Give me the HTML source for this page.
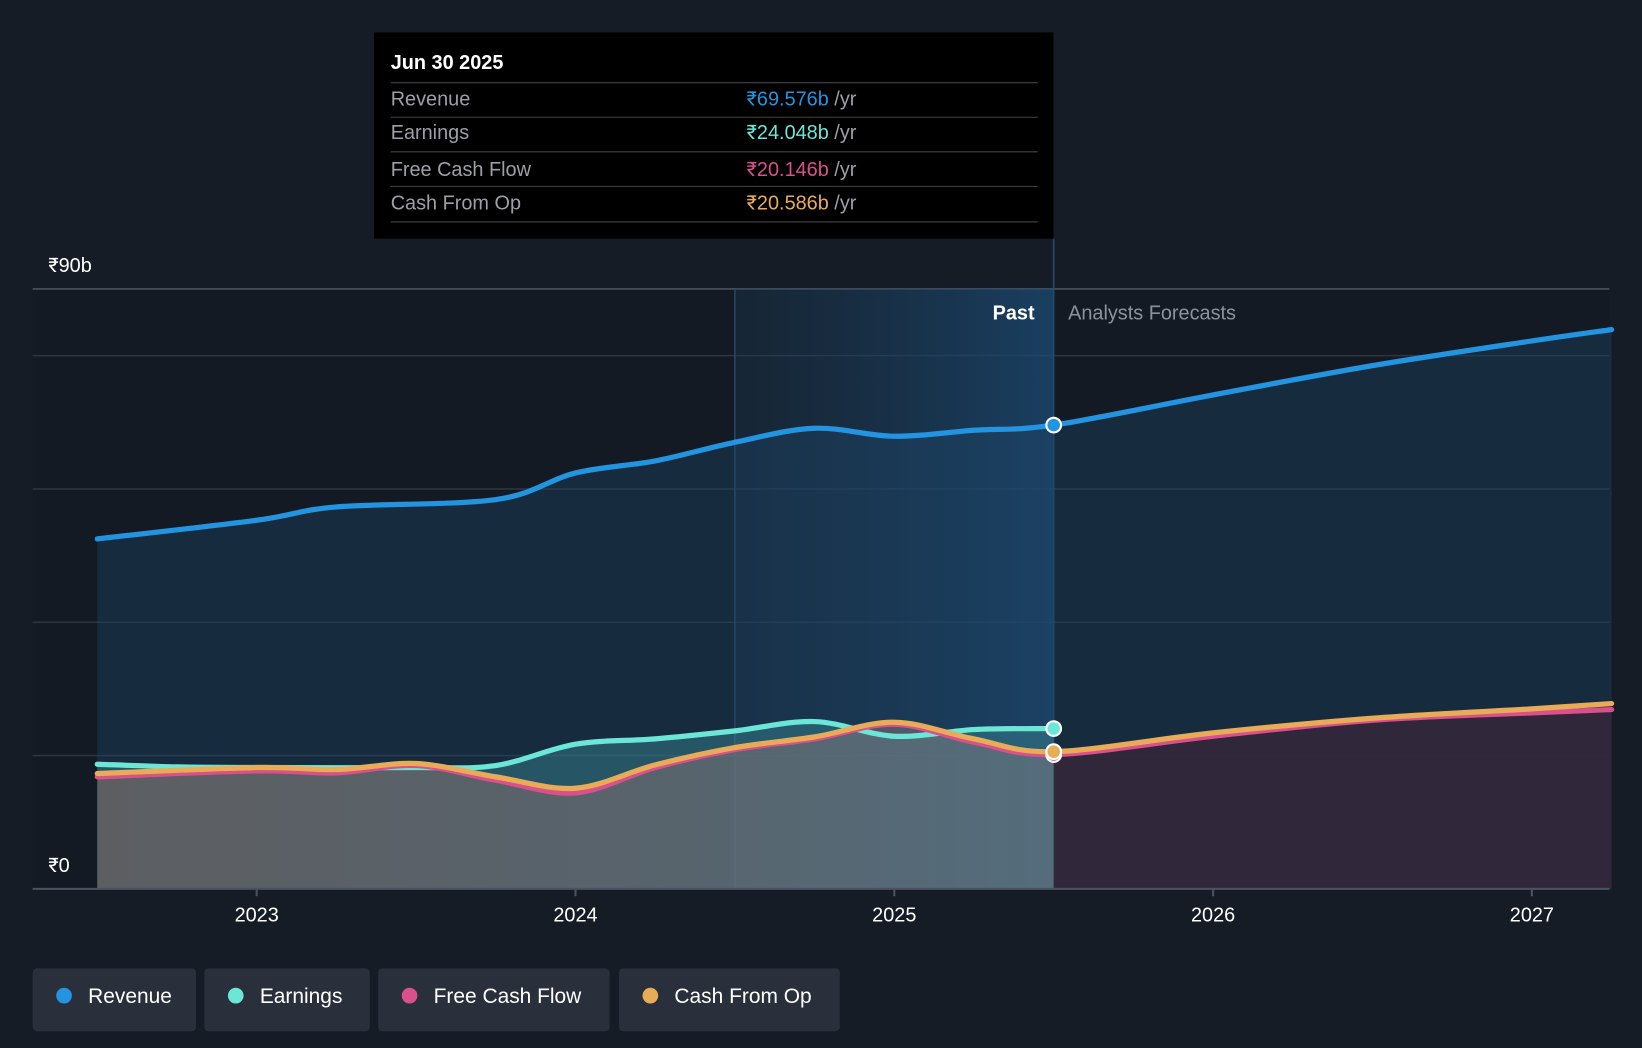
<!DOCTYPE html>
<html><head><meta charset="utf-8"><style>
html,body{margin:0;padding:0;background:#161c25;}
svg{display:block;font-family:"Liberation Sans",Roboto,sans-serif;}
</style></head><body>
<svg id="chart" width="1642" height="1048" viewBox="0 0 1568 1001">
<defs>
<linearGradient id="pastGrad" x1="0" x2="1" y1="0" y2="0">
<stop offset="0" stop-color="#1d3a56" stop-opacity="0.35"/><stop offset="1" stop-color="#1b4b75" stop-opacity="0.75"/>
</linearGradient>
<linearGradient id="cashGrad" x1="0" x2="1" y1="0" y2="0">
<stop offset="0" stop-color="#8a6660"/><stop offset="1" stop-color="#6e7f90"/>
</linearGradient>
</defs>
<rect x="0" y="0" width="1568" height="1001" fill="#161c25"/>
<rect x="31" y="276" width="1506" height="573" fill="#131a23"/>
<g id="grid"></g>
<rect id="pastRegion" fill="url(#pastGrad)"/>
<g id="areas"></g>
<g id="lines"></g>
<g id="axes"></g>
<g id="dots"></g>
<text x="988" y="305" fill="#ffffff" font-size="19" text-anchor="end" font-weight="bold">Past</text>
<text x="1020" y="305" fill="#8b929c" font-size="19">Analysts Forecasts</text>
<g>
<rect x="357" y="31" width="649" height="197" fill="#000000"/>
<text x="373" y="66" fill="#fff" font-size="19" font-weight="bold">Jun 30 2025</text>
<line x1="373" x2="991" y1="79" y2="79" stroke="#444"/>
<text x="373" y="101" fill="#9aa0a6" font-size="19">Revenue</text>
<text x="713" y="101" font-size="19"><tspan fill="#2394df">₹69.576b</tspan><tspan fill="#9aa0a6"> /yr</tspan></text>
<line x1="373" x2="991" y1="112" y2="112" stroke="#444"/>
<text x="373" y="133" fill="#9aa0a6" font-size="19">Earnings</text>
<text x="713" y="133" font-size="19"><tspan fill="#6ce6d6">₹24.048b</tspan><tspan fill="#9aa0a6"> /yr</tspan></text>
<line x1="373" x2="991" y1="145" y2="145" stroke="#444"/>
<text x="373" y="168" fill="#9aa0a6" font-size="19">Free Cash Flow</text>
<text x="713" y="168" font-size="19"><tspan fill="#d9508a">₹20.146b</tspan><tspan fill="#9aa0a6"> /yr</tspan></text>
<line x1="373" x2="991" y1="178" y2="178" stroke="#444"/>
<text x="373" y="200" fill="#9aa0a6" font-size="19">Cash From Op</text>
<text x="713" y="200" font-size="19"><tspan fill="#e8ac58">₹20.586b</tspan><tspan fill="#9aa0a6"> /yr</tspan></text>
<line x1="373" x2="991" y1="212" y2="212" stroke="#444"/>
</g>
<g id="legend"></g>
</svg>
<script>
const NS="http://www.w3.org/2000/svg";
const yTicks=[0,20,40,60,80,90];
const yLabels=["₹0","","","","","₹90b"];
const xTicks=[2023,2024,2025,2026,2027];
const revX=[2022.5,2023,2023.25,2023.75,2024,2024.25,2024.5,2024.75,2025,2025.25,2025.5,2026,2026.5,2027,2027.25];
const revY=[52.5,55.3,57.3,58.4,62.4,64.2,67,69.1,67.9,68.8,69.576,74.1,78.5,82.2,83.9];
const earnX=[2022.5,2022.75,2023,2023.5,2023.75,2024,2024.25,2024.5,2024.75,2025,2025.25,2025.5];
const earnY=[18.7,18.3,18.2,18.2,18.5,21.7,22.5,23.7,25.1,22.9,23.9,24.048];
const cfX=[2022.5,2023,2023.25,2023.5,2023.75,2024,2024.25,2024.5,2024.75,2025,2025.25,2025.5,2026,2026.5,2027,2027.25];
const fcfY=[16.8,17.7,17.4,18.5,16.3,14.4,18.2,20.9,22.5,24.7,22,20.146,22.9,25.3,26.4,26.9];
const cfoY=[17.3,18.2,17.9,18.8,16.8,15.1,18.6,21.2,22.8,25,22.5,20.586,23.4,25.6,27,27.8];
const pastEnd=2025.5, pastStart=2024.5;
const X=v=>245+(v-2023)*304.5;
const Y=v=>849-v*573/90;
function el(t,a,p){const e=document.createElementNS(NS,t);for(const k in a)e.setAttribute(k,a[k]);(p||document.getElementById('chart')).appendChild(e);return e;}
function path(xs,ys){const p=xs.map((x,i)=>[X(x),Y(ys[i])]);let d="M"+p[0][0]+","+p[0][1];
for(let i=0;i<p.length-1;i++){const p0=p[i-1]||p[i],p1=p[i],p2=p[i+1],p3=p[i+2]||p2;
d+=" C"+(p1[0]+(p2[0]-p0[0])/6)+","+(p1[1]+(p2[1]-p0[1])/6)+" "+(p2[0]-(p3[0]-p1[0])/6)+","+(p2[1]-(p3[1]-p1[1])/6)+" "+p2[0]+","+p2[1];}return d;}
const grid=document.getElementById('grid'),areas=document.getElementById('areas'),lines=document.getElementById('lines'),axes=document.getElementById('axes'),dots=document.getElementById('dots');
yTicks.forEach((t,i)=>{const g=el('line',{x1:31,x2:1537,y1:Y(t),y2:Y(t),stroke:t==90?'#4a5260':'#2c3440','stroke-width':1.5},grid);


if(yLabels[i]){const l=el('text',{x:46,y:Y(t)-16,fill:'#fff','font-size':19},axes);l.textContent=yLabels[i];

}});
const pr=document.getElementById('pastRegion');pr.setAttribute('x',X(pastStart));pr.setAttribute('y',276);pr.setAttribute('width',X(pastEnd)-X(pastStart));pr.setAttribute('height',573);
[pastStart,pastEnd].forEach(v=>{const l=el('line',{x1:X(v),x2:X(v),y1:v==pastEnd?228:276,y2:849,stroke:'#2a4a68','stroke-width':1.5},grid);

});
const base=Y(0);
const clipP=el('clipPath',{id:'clipPast'});el('rect',{x:0,y:0,width:X(pastEnd),height:1001},clipP);
const clipF=el('clipPath',{id:'clipFut'});el('rect',{x:X(pastEnd),y:0,width:1000,height:1001},clipF);
function area(xs,ys,fill,op,name,clip){const d=path(xs,ys)+" L"+X(xs[xs.length-1])+","+base+" L"+X(xs[0])+","+base+"Z";
const a=el('path',{d:d,fill:fill,'fill-opacity':op},areas);
if(clip)a.setAttribute('clip-path','url(#'+clip+')');

}
area(revX,revY,'#1d456a',0.4,'revenue-area');
area(earnX,earnY,'#3a8a95',0.45,'earnings-area');
area(cfX,cfoY,'url(#cashGrad)',0.55,'cash-area-past','clipPast');
area(cfX,cfoY,'#33283a',0.9,'cash-area-forecast','clipFut');
function line(xs,ys,c,name){const l=el('path',{d:path(xs,ys),fill:'none',stroke:c,'stroke-width':5,'stroke-linecap':'round'},lines);

}
line(revX,revY,'#2394df','revenue-line');
line(earnX,earnY,'#6ce6d6','earnings-line');
line(cfX,fcfY,'#d9508a','free-cash-flow-line');
line(cfX,cfoY,'#e8ac58','cash-from-op-line');
const al=el('line',{x1:31,x2:1537,y1:849,y2:849,stroke:'#4a5260','stroke-width':2},axes);


xTicks.forEach(t=>{const k=el('line',{x1:X(t),x2:X(t),y1:849,y2:856,stroke:'#4a5260','stroke-width':2},axes);


const l=el('text',{x:X(t),y:880,fill:'#fff','font-size':19,'text-anchor':'middle'},axes);l.textContent=t;

});
[[fcfY[11],'#d9508a'],[cfoY[11],'#e8ac58'],[earnY[11],'#6ce6d6'],[revY[10],'#2394df']].forEach(([v,c])=>{const d=el('circle',{cx:X(pastEnd),cy:Y(v),r:7,fill:c,stroke:'#fff','stroke-width':2},dots);

});
const leg=[["Revenue","#2394df",31,156],["Earnings","#6ce6d6",195,158],["Free Cash Flow","#d9508a",361,221],["Cash From Op","#e8ac58",591,211]];
const lg=document.getElementById('legend');
leg.forEach(([n,c,x,w])=>{const g=el('g',{},lg);


el('rect',{x:x,y:925,width:w,height:60,rx:4,fill:'#2a303b'},g);
el('circle',{cx:x+30,cy:951,r:7.5,fill:c},g);
const t=el('text',{x:x+53,y:958,fill:'#fff','font-size':20},g);t.textContent=n;});
</script>
</body></html>
